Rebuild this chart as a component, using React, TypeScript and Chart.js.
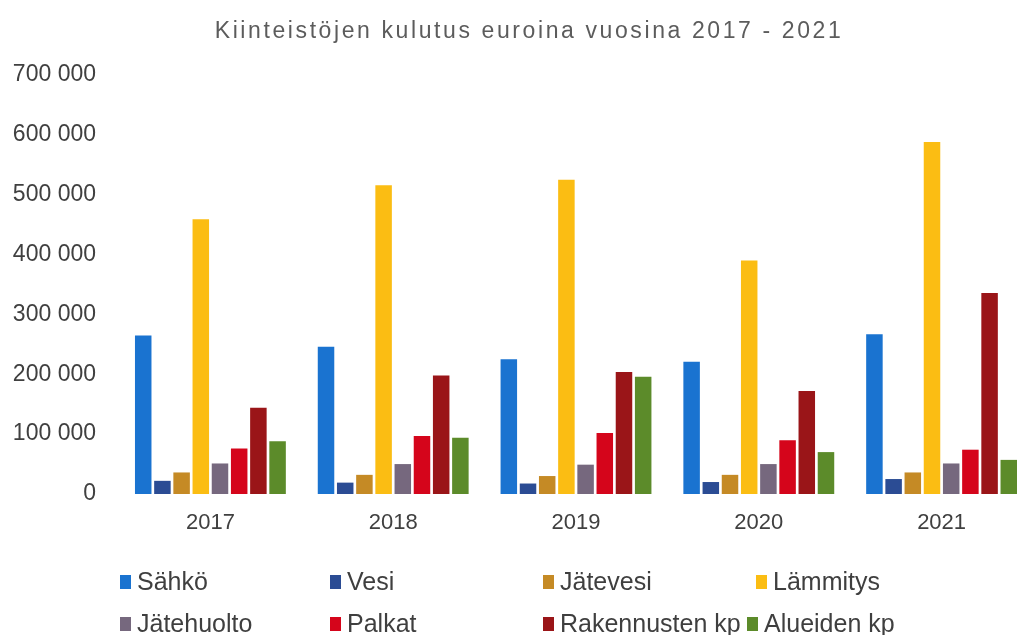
import React, { useEffect, useRef } from "react";
import { Chart, registerables } from "chart.js";

Chart.register(...registerables);

const TITLE = "Kiinteistöjen kulutus euroina vuosina 2017 - 2021";
const YEARS = ["2017", "2018", "2019", "2020", "2021"];

const SAHKO = [265000, 246000, 225000, 221000, 267000];
const VESI = [22000, 19000, 17500, 20000, 25000];
const JATEVESI = [36000, 32000, 30000, 32000, 36000];
const LAMMITYS = [459000, 516000, 525000, 390000, 588000];
const JATEHUOLTO = [51000, 50000, 49000, 50000, 51000];
const PALKAT = [76000, 97000, 102000, 90000, 74000];
const RAKENNUSTEN = [144000, 198000, 204000, 172000, 336000];
const ALUEIDEN = [88000, 94000, 196000, 70000, 57000];

const SERIES_NAMES = [
  "Sähkö",
  "Vesi",
  "Jätevesi",
  "Lämmitys",
  "Jätehuolto",
  "Palkat",
  "Rakennusten kp",
  "Alueiden kp",
];
const SERIES_VALUES = [SAHKO, VESI, JATEVESI, LAMMITYS, JATEHUOLTO, PALKAT, RAKENNUSTEN, ALUEIDEN];
const COLORS = [
  "#1a73d0",
  "#2b4c94",
  "#c58a25",
  "#fbbd13",
  "#76687e",
  "#d5051b",
  "#9a1518",
  "#5c8b2a",
];

const Y_MAX = 700000;
const Y_STEP = 100000;

const FONT = '"Liberation Sans", Arial, sans-serif';
const W = 1056;
const H = 635;

const fmt = (v: number) => String(v).replace(/\B(?=(\d{3})+(?!\d))/g, " ");

const overlayPlugin = {
  id: "overlay",
  afterDraw(chart: any) {
    const ctx = chart.ctx as CanvasRenderingContext2D;
    ctx.save();
    // title
    ctx.font = `23px ${FONT}`;
    ctx.fillStyle = "#5c5c5c";
    ctx.textAlign = "center";
    ctx.textBaseline = "middle";
    (ctx as any).letterSpacing = "2.6px";
    ctx.fillText(TITLE, 529, 31.5);

    // legend (4 columns x 2 rows)
    const colX = [[120, 330, 543, 756], [120, 330, 543, 747]];
    const rowY = [582, 624];
    ctx.font = `25px ${FONT}`;
    (ctx as any).letterSpacing = "0px";
    ctx.textAlign = "left";
    chart.data.datasets.forEach((ds: any, i: number) => {
      const r = Math.floor(i / 4);
      const x = colX[r][i % 4];
      const y = rowY[r];
      ctx.fillStyle = ds.backgroundColor;
      ctx.fillRect(x, y - 7, 11, 14);
      ctx.fillStyle = "#3f3f3f";
      ctx.fillText(ds.label, x + 17, y + 1);
    });
    ctx.restore();
  },
};

export default function App() {
  const ref = useRef<HTMLCanvasElement | null>(null);

  useEffect(() => {
    if (!ref.current) return;
    const chart = new Chart(ref.current, {
      type: "bar",
      data: {
        labels: YEARS,
        datasets: SERIES_NAMES.map((name, i) => ({
          label: name,
          data: SERIES_VALUES[i],
          backgroundColor: COLORS[i],
          borderWidth: 0,
          categoryPercentage: 0.84,
          barPercentage: 0.86,
        })),
      },
      options: {
        animation: false,
        responsive: false,
        devicePixelRatio: 1,
        layout: { padding: { left: 0, right: W - 1033, top: 75, bottom: 0 } },
        plugins: {
          legend: { display: false },
          title: { display: false },
          tooltip: { enabled: false },
        },
        scales: {
          x: {
            grid: { display: false, drawTicks: false },
            border: { display: false },
            ticks: {
              color: "#404040",
              font: { family: FONT, size: 22 },
              padding: 16,
            },
            afterFit(scale: any) {
              scale.height = H - 494;
            },
          },
          y: {
            min: 0,
            max: Y_MAX,
            grid: { display: false, drawTicks: false },
            border: { display: false },
            ticks: {
              stepSize: Y_STEP,
              color: "#404040",
              font: { family: FONT, size: 23 },
              padding: 23,
              callback: (v: any) => fmt(Number(v)),
            },
            afterFit(scale: any) {
              scale.width = 119;
            },
          },
        },
      },
      plugins: [overlayPlugin],
    });
    return () => chart.destroy();
  }, []);

  return (
    <div
      style={{
        position: "fixed",
        left: 0,
        top: 0,
        width: 1017,
        height: 635,
        overflow: "hidden",
        background: "#fff",
      }}
    >
      <canvas ref={ref} width={W} height={H} style={{ width: W, height: H, display: "block" }} />
    </div>
  );
}
